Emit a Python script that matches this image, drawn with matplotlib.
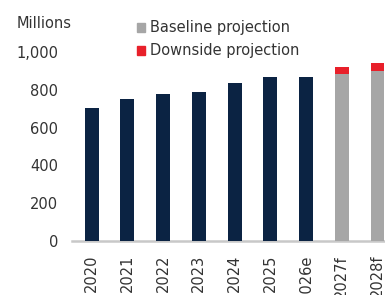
import numpy as np
import matplotlib; matplotlib.use("Agg")
import matplotlib.pyplot as plt
from matplotlib.patches import Patch

categories = ["2020", "2021", "2022", "2023", "2024", "2025", "2026e", "2027f", "2028f"]
actual = [703, 750, 778, 788, 838, 866, 868, 0, 0]
baseline = [0, 0, 0, 0, 0, 0, 0, 884, 901]
downside = [0, 0, 0, 0, 0, 0, 0, 38, 39]
yticks = [0, 200, 400, 600, 800, 1000]
ytick_labels = ["0", "200", "400", "600", "800", "1,000"]

NAVY = "#0b2343"; GREY = "#a6a6a6"; RED = "#e8202a"; TXT = "#333333"
plt.rcParams["font.family"] = ["DejaVu Sans"]
fs = 10.5

fig = plt.figure(figsize=(3.85, 2.95), dpi=100)
ax = fig.add_axes([72/385, 1-241/295, 1-72/385, (241-52)/295])
x = np.arange(len(categories)); w = 0.39
ax.bar(x, actual, w, color=NAVY)
ax.bar(x, baseline, w, color=GREY)
ax.bar(x, downside, w, bottom=baseline, color=RED)
ax.set_xlim(-0.55, 8.21); ax.set_ylim(0, 1000)
ax.set_yticks(yticks); ax.set_yticklabels(ytick_labels)
ax.set_xticks(x); ax.set_xticklabels(categories, rotation=90)
ax.tick_params(axis="y", length=0, pad=10, labelsize=fs, labelcolor=TXT)
ax.tick_params(axis="x", length=0, pad=10, labelsize=fs, labelcolor=TXT)
for s in ["top", "right", "left"]: ax.spines[s].set_visible(False)
ax.spines["bottom"].set_color("#c8c8c8"); ax.spines["bottom"].set_linewidth(1.8)
ax.spines["bottom"].set_zorder(0)

fig.text(17/385, 1-24/295, "Millions", fontsize=fs, color=TXT, va="center", ha="left")
h = [Patch(color=GREY), Patch(color=RED)]
fig.legend(h, ["Baseline projection", "Downside projection"], loc="upper left",
           bbox_to_anchor=(133/385, 1-16/295), frameon=False, fontsize=fs,
           handlelength=0.5, handleheight=0.6, handletextpad=0.4, labelspacing=0.55,
           labelcolor=TXT, borderaxespad=0, borderpad=0.3)
fig.savefig("out.png", dpi=100)
